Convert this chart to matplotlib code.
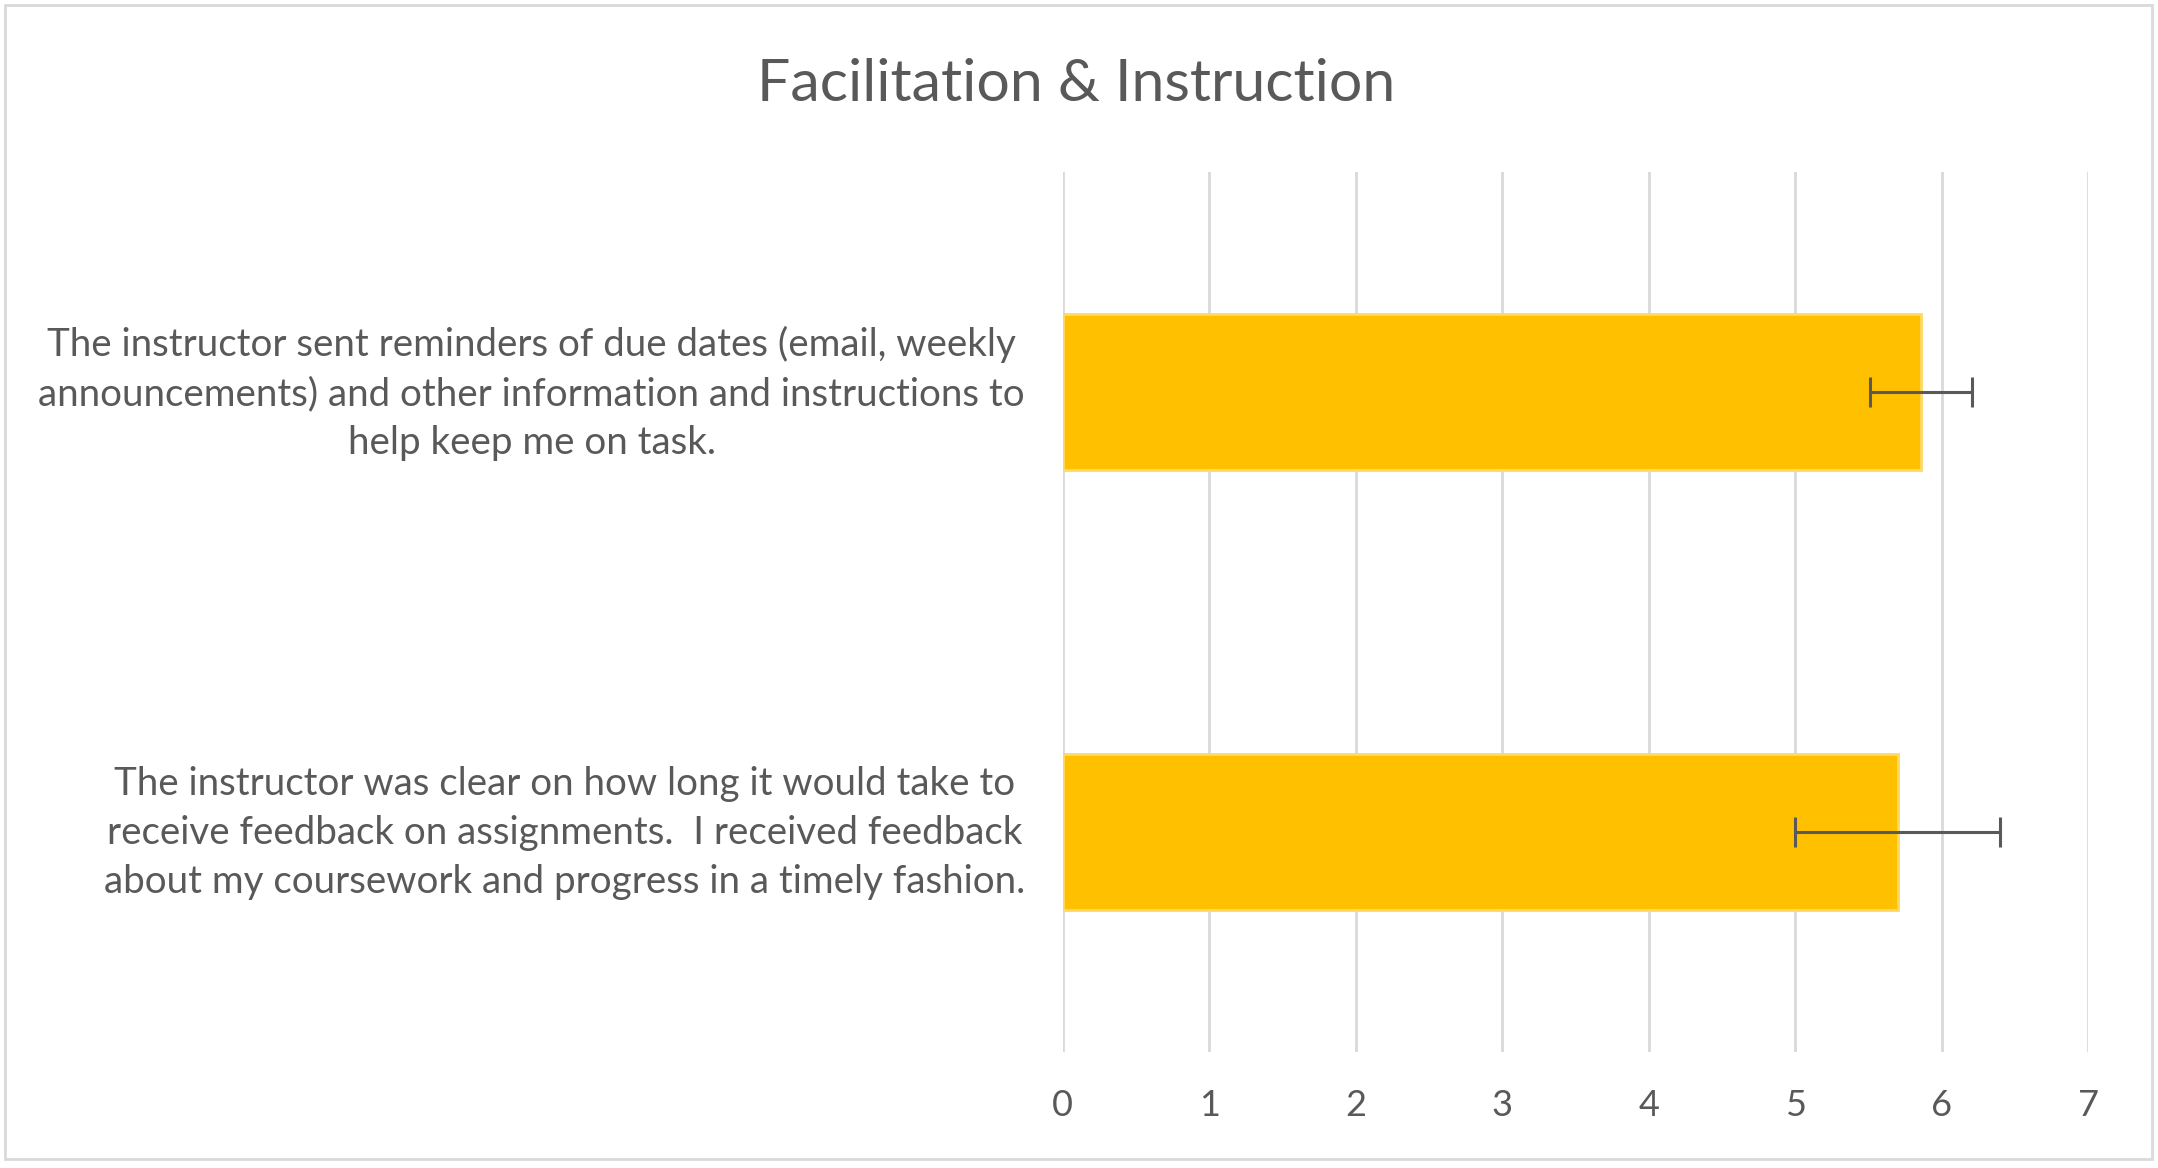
import numpy as np
import matplotlib
matplotlib.use("Agg")
import matplotlib.pyplot as plt
import matplotlib.transforms as mtransforms
from matplotlib.patches import Rectangle

# survey items, top to bottom
questions = [
    "The instructor sent reminders of due dates (email, weekly\n"
    "announcements) and other information and instructions to\n"
    "help keep me on task.",
    "The instructor was clear on how long it would take to\n"
    "receive feedback on assignments.  I received feedback\n"
    "about my coursework and progress in a timely fashion.",
]
means = [5.86, 5.70]
errors = [0.35, 0.70]
xticks = [0, 1, 2, 3, 4, 5, 6, 7]

textColor = "#595959"
gridColor = "#d9d9d9"

plt.rcParams["font.family"] = ["Lato", "DejaVu Sans"]

fig = plt.figure(figsize=(21.58, 11.68), dpi=100)
ax = fig.add_axes([0.4924, 0.0997, 0.9676 - 0.4924, 0.8527 - 0.0997])

yPos = np.arange(len(questions))
ax.barh(yPos, means, height=0.355, color="#FFC000", edgecolor="#FFD966",
        linewidth=2, zorder=2)
ax.errorbar(means, yPos, xerr=errors, fmt="none", ecolor=textColor,
            elinewidth=2.2, capsize=11, capthick=2.2, zorder=3)

ax.set_xlim(0, 7)
ax.set_ylim(len(questions) - 0.5, -0.5)
ax.set_xticks(xticks)
ax.set_xticklabels([str(t) for t in xticks], fontsize=26, color=textColor)
ax.set_yticks(yPos)
ax.set_yticklabels(questions, fontsize=27.7, color=textColor,
                   multialignment="center", linespacing=1.45)
ax.tick_params(axis="x", length=0, pad=27)
ax.tick_params(axis="y", length=0, pad=27)

# nudge the wrapped labels up a little, like the original
shiftUp = mtransforms.ScaledTranslation(0, 6 / 72, fig.dpi_scale_trans)
for lbl in ax.get_yticklabels():
    lbl.set_transform(lbl.get_transform() + shiftUp)

ax.grid(axis="x", color=gridColor, linewidth=2, zorder=0)
for side in ["top", "right", "bottom", "left"]:
    ax.spines[side].set_visible(False)

fig.text(0.4986, 0.928, "Facilitation & Instruction", ha="center",
         va="center", fontsize=42.5, color=textColor)

# chart border
fig.patches.append(Rectangle((0.0025, 0.008), 0.9945, 0.988,
                             transform=fig.transFigure, fill=False,
                             edgecolor=gridColor, linewidth=2))

fig.savefig("out.png", dpi=100)
